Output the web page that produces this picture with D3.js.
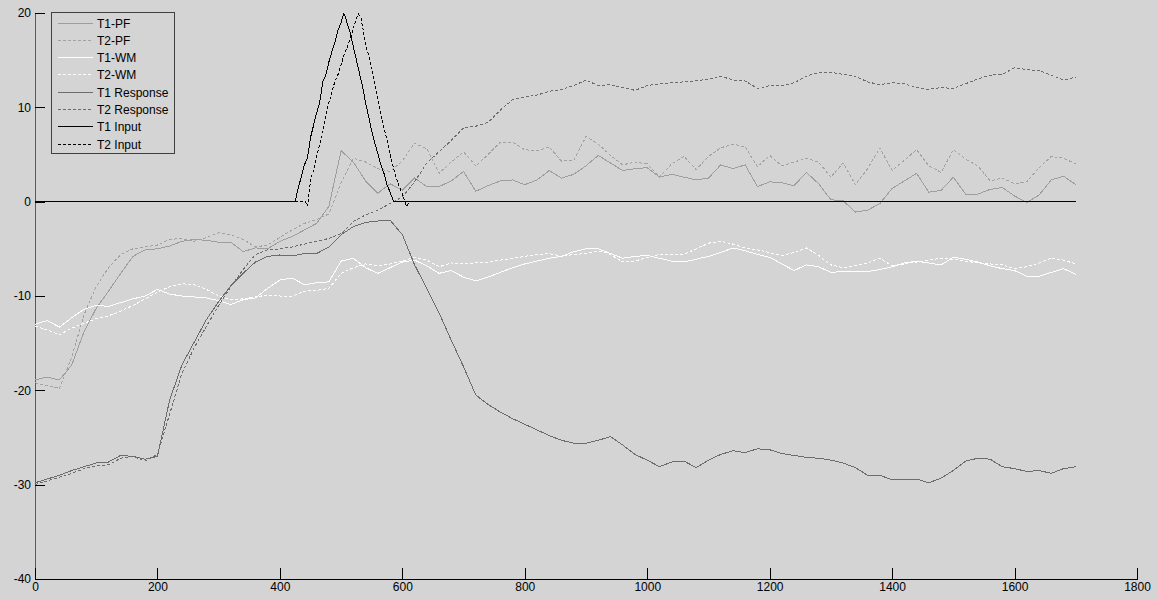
<!DOCTYPE html>
<html>
<head>
<meta charset="utf-8">
<script src="https://cdn.jsdelivr.net/npm/d3@7"></script>
<style>
  html, body { margin: 0; padding: 0; background: #d4d4d4; }
  svg { display: block; font-family: "Liberation Sans", Arial, sans-serif; }
</style>
</head>
<body>
<svg id="chart" width="1157" height="599"></svg>
<script>
// Sample positions (time steps) shared by the slowly varying traces
const xSamples = [
  0, 20, 40, 60, 80, 100, 120, 140, 160, 180,
  200, 220, 240, 260, 280, 300, 320, 340, 360, 380,
  400, 420, 440, 460, 480, 500, 520, 540, 560, 580,
  600, 620, 640, 660, 680, 700, 720, 740, 760, 780,
  800, 820, 840, 860, 880, 900, 920, 940, 960, 980,
  1000, 1020, 1040, 1060, 1080, 1100, 1120, 1140, 1160, 1180,
  1200, 1220, 1240, 1260, 1280, 1300, 1320, 1340, 1360, 1380,
  1400, 1420, 1440, 1460, 1480, 1500, 1520, 1540, 1560, 1580,
  1600, 1620, 1640, 1660, 1680, 1700
];

const t1Pf = [
  -18.9, -18.6, -18.9, -17.3, -13.8, -11.3, -9.5, -7.6, -5.8, -5.1,
  -5.0, -4.7, -4.2, -4.0, -4.1, -4.3, -4.3, -5.3, -4.9, -5.0,
  -4.2, -3.7, -3.0, -2.3, -0.5, 5.4, 4.2, 2.2, 0.9, 1.9,
  1.2, 2.5, 1.6, 1.6, 2.2, 3.2, 1.1, 1.7, 2.2, 2.3,
  1.8, 2.3, 3.3, 2.5, 2.9, 3.8, 4.9, 4.1, 3.3, 3.5,
  3.6, 2.6, 2.9, 2.6, 2.3, 2.5, 3.9, 3.5, 3.9, 1.6,
  2.1, 2.0, 1.7, 3.1, 1.9, 0.2, 0.1, -1.1, -0.9, -0.2,
  1.4, 2.2, 3.0, 1.0, 1.2, 2.6, 0.8, 0.8, 1.3, 1.5,
  0.6, -0.1, 0.7, 2.3, 2.7, 1.8
];

const t2Pf = [
  -19.2, -19.5, -19.8, -16.5, -12.0, -9.0, -7.0, -5.6, -5.0, -4.8,
  -4.6, -4.0, -3.9, -4.2, -3.8, -3.3, -3.5, -4.0, -4.8, -4.6,
  -3.8, -3.0, -2.3, -1.9, -1.3, 2.0, 4.6, 4.2, 3.5, 3.2,
  4.3, 6.2, 5.6, 3.0, 4.2, 5.3, 3.8, 5.0, 6.3, 6.3,
  5.5, 5.4, 5.8, 4.3, 4.4, 6.9, 6.1, 4.9, 3.9, 4.2,
  4.0, 2.6, 4.0, 4.8, 3.4, 4.8, 5.7, 6.1, 5.8, 3.7,
  4.9, 3.8, 4.2, 4.6, 4.2, 2.6, 4.1, 1.8, 3.5, 5.7,
  3.3, 4.4, 5.5, 3.8, 3.1, 5.5, 4.5, 3.8, 2.2, 2.5,
  1.9, 2.1, 3.6, 4.8, 4.6, 4.0
];

const t1Wm = [
  -13.0, -12.6, -13.3, -12.3, -11.4, -11.0, -11.1, -10.7, -10.3, -10.0,
  -9.3, -9.8, -10.0, -10.1, -10.2, -10.5, -10.9, -10.4, -10.2, -9.2,
  -8.3, -8.1, -8.8, -8.6, -8.5, -6.3, -6.0, -7.0, -7.6, -7.0,
  -6.4, -6.2, -6.8, -7.6, -7.3, -8.0, -8.4, -8.0, -7.5, -7.0,
  -6.6, -6.3, -6.0, -5.8, -5.3, -5.0, -5.0, -5.5, -6.0, -5.8,
  -5.7, -6.0, -6.3, -6.4, -6.1, -5.8, -5.4, -4.9, -5.2, -5.6,
  -5.9, -6.6, -7.3, -6.7, -6.9, -7.5, -7.4, -7.4, -7.4, -7.2,
  -6.9, -6.5, -6.3, -6.5, -6.7, -5.9, -6.1, -6.4, -6.8, -7.1,
  -7.3, -7.9, -7.9, -7.5, -7.1, -7.7
];

const t2Wm = [
  -13.2, -13.6, -14.1, -13.4, -12.9, -12.4, -12.1, -11.6, -11.0, -10.3,
  -9.6, -9.0, -8.7, -8.8, -9.3, -10.0, -10.4, -10.3, -10.1, -9.9,
  -10.0, -10.0, -9.5, -9.4, -9.2, -7.6, -7.0, -6.6, -6.8, -6.6,
  -6.3, -5.9, -6.2, -6.9, -6.5, -6.6, -6.5, -6.4, -6.2, -6.0,
  -5.8, -5.6, -5.5, -5.8, -5.6, -5.5, -5.2, -5.6, -6.4, -6.3,
  -5.9, -5.6, -5.6, -5.6, -5.0, -4.4, -4.2, -4.5, -4.9, -5.1,
  -5.4, -5.7, -5.4, -4.9, -5.7, -6.7, -7.0, -6.8, -6.5, -6.0,
  -6.8, -6.6, -6.4, -6.2, -6.0, -6.1, -6.3, -6.5, -6.6, -6.7,
  -7.1, -6.9, -6.5, -6.0, -6.2, -6.6
];

const t1Response = [
  -29.8, -29.4, -29.0, -28.5, -28.1, -27.7, -27.6, -26.9, -27.0, -27.3,
  -27.0, -21.0, -17.3, -14.9, -12.5, -10.6, -8.9, -7.6, -6.4, -5.8,
  -5.65, -5.75, -5.5, -5.5, -4.8, -3.5, -2.65, -2.2, -2.05, -1.95,
  -3.5, -6.7, -9.2, -11.8, -14.7, -17.5, -20.5, -21.5, -22.3, -23.0,
  -23.6, -24.2, -24.8, -25.3, -25.6, -25.6, -25.3, -24.9, -25.8, -26.8,
  -27.4, -28.1, -27.6, -27.5, -28.2, -27.4, -26.8, -26.4, -26.6, -26.2,
  -26.3, -26.7, -26.9, -27.1, -27.2, -27.4, -27.7, -28.2, -29.0, -29.0,
  -29.5, -29.5, -29.4, -29.8, -29.3, -28.5, -27.5, -27.2, -27.3, -28.1,
  -28.3, -28.6, -28.5, -28.8, -28.3, -28.1
];

const t2Response = [
  -30.0, -29.6, -29.2, -28.8, -28.3, -28.0, -27.9, -27.2, -27.0, -27.5,
  -26.8, -22.5, -18.2, -15.5, -13.2, -11.0, -9.0, -7.2, -5.6, -5.1,
  -5.0, -4.8, -4.5, -4.2, -3.9, -3.4, -2.1, -1.4, -0.9, -0.2,
  0.5, 2.1, 4.1, 5.3, 6.5, 7.8, 8.0, 8.4, 9.7, 10.8,
  11.1, 11.3, 11.7, 11.9, 12.3, 12.9, 12.3, 12.4, 12.1, 11.8,
  12.3, 12.5, 12.6, 12.7, 12.8, 13.0, 13.3, 12.9, 12.8, 12.0,
  12.3, 12.3, 12.6, 13.3, 13.7, 13.7, 13.5, 13.3, 12.7, 12.4,
  12.6, 12.5, 12.1, 11.9, 12.1, 12.0, 12.5, 13.0, 13.4, 13.5,
  14.2, 14.0, 13.9, 13.4, 12.9, 13.2
];

// Input pulses: flat at zero with one noisy triangular bump each
const t1InputX = [
  0, 425, 430, 435, 440, 445, 450, 455, 460, 465,
  470, 475, 480, 485, 490, 495, 500, 504, 507, 510,
  515, 520, 525, 530, 535, 540, 545, 550, 555, 560,
  565, 570, 575, 580, 586, 1700
];
const t1InputY = [
  0, 0, 1.5, 2.6, 3.9, 4.6, 6.8, 8.1, 9.4, 10.5,
  12.7, 13.4, 14.8, 15.9, 16.9, 18.2, 19.0, 19.9, 19.6, 18.9,
  17.9, 16.4, 15.0, 13.6, 12.2, 10.5, 9.0, 7.5, 6.2, 5.1,
  3.9, 3.0, 1.8, 1.0, 0, 0
];

const t2InputX = [
  0, 442, 445, 450, 455, 460, 465, 470, 475, 480,
  485, 490, 495, 500, 505, 510, 515, 520, 524, 528,
  532, 536, 540, 545, 550, 555, 560, 565, 570, 575,
  580, 585, 590, 595, 600, 607, 611, 1700
];
const t2InputY = [
  0, 0, -0.5, 2.2, 3.4, 4.8, 6.1, 7.6, 9.1, 10.5,
  11.6, 12.8, 13.5, 14.5, 15.6, 16.4, 17.3, 18.4, 19.2, 19.9,
  19.6, 18.2, 16.6, 15.5, 14.2, 12.6, 11.0, 9.4, 7.8, 6.5,
  5.0, 3.7, 2.5, 1.6, 0.8, -0.5, 0, 0
];

const seriesNames = ["T1-PF", "T2-PF", "T1-WM", "T2-WM", "T1 Response", "T2 Response", "T1 Input", "T2 Input"];
const xTicks = [0, 200, 400, 600, 800, 1000, 1200, 1400, 1600, 1800];
const yTicks = [-40, -30, -20, -10, 0, 10, 20];

// Plot order (later traces drawn on top), with stroke styles
const series = [
  { name: seriesNames[0], xs: xSamples, ys: t1Pf, color: "#9e9e9e", dash: null },
  { name: seriesNames[1], xs: xSamples, ys: t2Pf, color: "#a2a2a2", dash: "3,2" },
  { name: seriesNames[2], xs: xSamples, ys: t1Wm, color: "#ffffff", dash: null },
  { name: seriesNames[3], xs: xSamples, ys: t2Wm, color: "#ffffff", dash: "3,2" },
  { name: seriesNames[4], xs: xSamples, ys: t1Response, color: "#6c6c6c", dash: null },
  { name: seriesNames[5], xs: xSamples, ys: t2Response, color: "#6c6c6c", dash: "3,2" },
  { name: seriesNames[6], xs: t1InputX, ys: t1InputY, color: "#000000", dash: null },
  { name: seriesNames[7], xs: t2InputX, ys: t2InputY, color: "#000000", dash: "3,2" }
];

const svg = d3.select("#chart");
const bg = "#d4d4d4";
svg.append("rect").attr("width", 1157).attr("height", 599).attr("fill", bg);

const x = d3.scaleLinear().domain([0, 1800]).range([35, 1137]);
const y = d3.scaleLinear().domain([-40, 20]).range([579, 13]);

// Plain integer labels with an ASCII hyphen for negatives
const plainNum = d => String(d);

// Axes: ticks point into the plot, no box on top/right
const yAxis = svg.append("g")
  .attr("transform", "translate(35,0)")
  .call(d3.axisLeft(y).tickValues(yTicks).tickFormat(plainNum)
    .tickSizeInner(-10).tickSizeOuter(0).tickPadding(4));
const xAxis = svg.append("g")
  .attr("transform", "translate(0,579)")
  .call(d3.axisBottom(x).tickValues(xTicks).tickFormat(plainNum)
    .tickSizeInner(-11).tickSizeOuter(0).tickPadding(3));

[yAxis, xAxis].forEach(g => {
  g.attr("font-family", "Liberation Sans, Arial, sans-serif").attr("font-size", 12);
  g.selectAll("text").attr("fill", "#000");
  g.selectAll("line").attr("stroke", "#000").attr("shape-rendering", "crispEdges");
});
yAxis.select(".domain").attr("stroke", "#5a5a5a").attr("shape-rendering", "crispEdges");
xAxis.select(".domain").attr("stroke", "#000").attr("shape-rendering", "crispEdges");

// Traces
const plot = svg.append("g");
series.forEach(s => {
  const line = d3.line()
    .x((d, i) => x(s.xs[i]))
    .y(d => y(d));
  plot.append("path")
    .datum(s.ys)
    .attr("d", line)
    .attr("fill", "none")
    .attr("stroke", s.color)
    .attr("stroke-width", 1)
    .attr("stroke-dasharray", s.dash)
    .attr("shape-rendering", "crispEdges");
});

// Legend box in the upper-left corner
const legend = svg.append("g");
legend.append("rect")
  .attr("x", 51.5).attr("y", 12.5)
  .attr("width", 123).attr("height", 141)
  .attr("fill", bg)
  .attr("stroke", "#404040")
  .attr("shape-rendering", "crispEdges");

series.forEach((s, i) => {
  const cy = Math.round(22.5 + i * 17.3) + 0.5;
  legend.append("line")
    .attr("x1", 58).attr("x2", 93)
    .attr("y1", cy).attr("y2", cy)
    .attr("stroke", s.color)
    .attr("stroke-width", 1)
    .attr("stroke-dasharray", s.dash)
    .attr("shape-rendering", "crispEdges");
  legend.append("text")
    .attr("x", 97).attr("y", cy)
    .attr("dy", "0.35em")
    .attr("font-size", 12)
    .attr("fill", "#000")
    .text(s.name);
});
</script>
</body>
</html>
